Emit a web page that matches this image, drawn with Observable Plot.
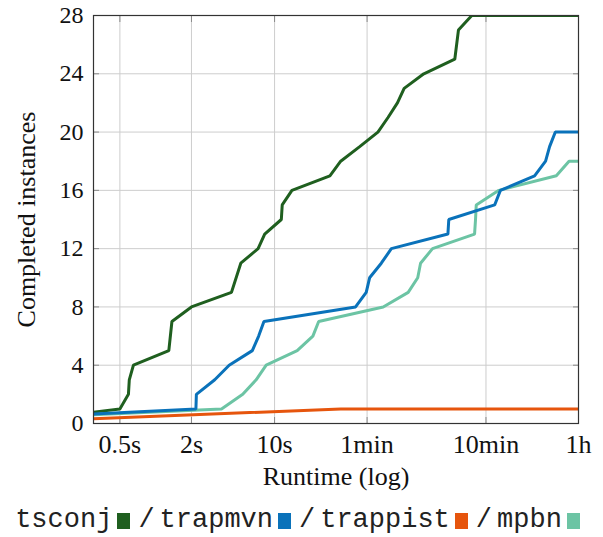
<!DOCTYPE html>
<html>
<head>
<meta charset="utf-8">
<script src="https://cdn.jsdelivr.net/npm/d3@7"></script>
<script src="https://cdn.jsdelivr.net/npm/@observablehq/plot@0.6"></script>
<style>
  html, body { margin: 0; padding: 0; background: #fff; }
  #wrap { position: relative; width: 603px; height: 537px; }
  #legend {
    position: absolute; left: 0; top: 505px; width: 603px; height: 31px;
    display: flex; justify-content: center; align-items: center;
    font-family: "Liberation Mono", monospace; font-size: 27px; line-height: 31px; color: #222;
    white-space: pre;
  }
  #legend .sw { display: inline-block; width: 13px; height: 16px; margin: 0 8px 0 5px; }
  #legend .sl { margin-right: 5px; }
</style>
</head>
<body>
<div id="wrap">
  <div id="chart"></div>
  <div id="legend"></div>
</div>
<script>
// ---- data ----
const seriesNames = ["tsconj", "trapmvn", "trappist", "mpbn"];
const seriesColors = ["#1f5f1f", "#0a72ba", "#e6550d", "#6cc4a4"];

const tsconjTime  = [0.3, 0.5, 0.59, 0.6, 0.65, 1.29, 1.37, 2.0, 4.34, 5.2, 7.27, 8.26, 11.4, 11.6, 14, 29.2, 36, 52, 74, 90, 108, 123, 180, 328, 352, 456, 3600];
const tsconjCount = [0.78, 1, 2, 3, 4, 5, 7, 8, 9, 11, 12, 13, 14, 15, 16, 17, 18, 19, 20, 21, 22, 23, 24, 25, 27, 28, 28];

const trapmvnTime  = [0.3, 2.18, 2.2, 3.14, 4.15, 6.5, 7.35, 8.14, 48, 59, 63, 79, 96, 287, 292, 710, 793, 1538, 1903, 2057, 2299, 3600];
const trapmvnCount = [0.65, 1, 2, 3, 4, 5, 6, 7, 8, 9, 10, 11, 12, 13, 14, 15, 16, 17, 18, 19, 20, 20];

const trappistTime  = [0.3, 36, 3600];
const trappistCount = [0.32, 1, 1];

const mpbnTime  = [0.3, 3.58, 5.4, 7, 8.5, 15.5, 21, 23.5, 82, 133, 160, 169, 213, 481, 490, 497, 770, 2343, 2998, 3600];
const mpbnCount = [0.6, 1, 2, 3, 4, 5, 6, 7, 8, 9, 10, 11, 12, 13, 14, 15, 16, 17, 18, 18];

const xTicks = [0.5, 2, 10, 60, 600, 3600];
const xTickLabels = ["0.5s", "2s", "10s", "1min", "10min", "1h"];
const yTicks = [0, 4, 8, 12, 16, 20, 24, 28];

// ---- build rows ----
const seriesData = [
  [tsconjTime, tsconjCount],
  [trapmvnTime, trapmvnCount],
  [trappistTime, trappistCount],
  [mpbnTime, mpbnCount]
];
const rows = [];
seriesData.forEach(([ts, ns], k) => {
  ts.forEach((t, i) => rows.push({series: seriesNames[k], t, n: ns[i]}));
});
const drawOrder = ["tsconj", "mpbn", "trappist", "trapmvn"];
rows.sort((a, b) => drawOrder.indexOf(a.series) - drawOrder.indexOf(b.series));

const xTickRows = xTicks.map((d, i) => ({t: d, label: xTickLabels[i]}));
const tickColor = "#8a8a8a";
const gridColor = "#cdcdcd";
const serif = "Liberation Serif";

const chart = Plot.plot({
  width: 603,
  height: 505,
  marginLeft: 93,
  marginRight: 25,
  marginTop: 15,
  marginBottom: 82,
  style: {fontFamily: serif, fontSize: "25px", color: "#111", background: "#fff"},
  x: {type: "log", domain: [0.3, 3600]},
  y: {domain: [0, 28]},
  color: {domain: seriesNames, range: seriesColors},
  marks: [
    Plot.gridX(xTicks, {stroke: gridColor, strokeOpacity: 1}),
    Plot.gridY(yTicks, {stroke: gridColor, strokeOpacity: 1}),
    // inward tick marks on all four sides
    Plot.axisY(yTicks, {anchor: "left", tickSize: 6, dx: 6, tickFormat: () => "", stroke: tickColor, label: null}),
    Plot.axisY(yTicks, {anchor: "right", tickSize: 6, dx: -6, tickFormat: () => "", stroke: tickColor, label: null}),
    Plot.axisX(xTicks, {anchor: "bottom", tickSize: 6, dy: -6, tickFormat: () => "", stroke: tickColor, label: null}),
    Plot.axisX(xTicks, {anchor: "top", tickSize: 6, dy: 6, tickFormat: () => "", stroke: tickColor, label: null}),
    // tick labels
    Plot.axisY(yTicks, {anchor: "left", tickSize: 0, tickPadding: 10, label: null, fontSize: 24, fontFamily: serif, fill: "#111"}),
    Plot.text(xTickRows, {x: "t", text: "label", frameAnchor: "bottom", lineAnchor: "top", dy: 11, fontSize: 26, fontFamily: serif, fill: "#111"}),
    // lines
    Plot.line(rows, {x: "t", y: "n", z: "series", stroke: "series", strokeWidth: 3, strokeLinejoin: "miter", clip: true}),
    Plot.frame({stroke: "#333", strokeWidth: 1.2}),
    // axis titles
    Plot.text(["Runtime (log)"], {frameAnchor: "bottom", textAnchor: "middle", dy: 61, fontSize: 26, fontFamily: serif, fill: "#111"}),
    Plot.text(["Completed instances"], {frameAnchor: "left", textAnchor: "middle", rotate: -90, dx: -67, fontSize: 26, fontFamily: serif, fill: "#111"})
  ]
});
document.getElementById("chart").appendChild(chart);

// ---- legend ----
const legend = document.getElementById("legend");
seriesNames.forEach((name, i) => {
  if (i > 0) {
    const sl = document.createElement("span");
    sl.className = "sl";
    sl.textContent = "/";
    legend.appendChild(sl);
  }
  const t = document.createElement("span");
  t.textContent = name;
  legend.appendChild(t);
  const sw = document.createElement("span");
  sw.className = "sw";
  sw.style.background = seriesColors[i];
  legend.appendChild(sw);
});
</script>
</body>
</html>
